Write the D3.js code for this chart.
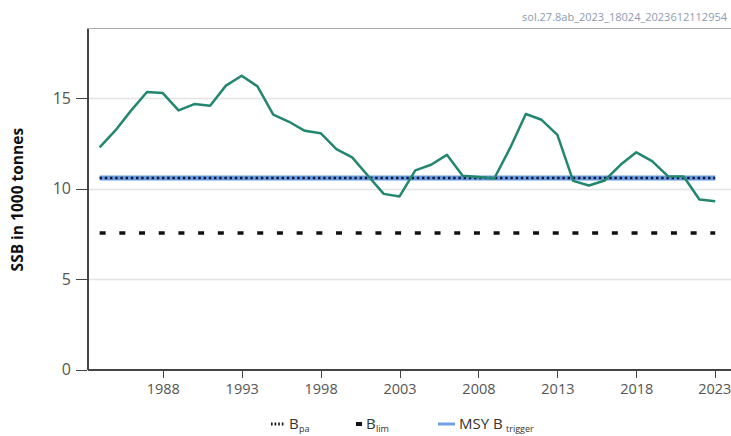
<!DOCTYPE html>
<html lang="en">
<head>
    <meta charset="UTF-8">
    <title>SSB</title>
    <style>
        body{ margin:0; background:#fff; }
        .axis path,.axis line{ fill:none; stroke:#444; shape-rendering:crispEdges; }
        .axis text{ fill:#555; font-family:"Open Sans",sans-serif; font-size:15px; }
    </style>
    <script src="https://cdn.jsdelivr.net/npm/d3@7"></script>
</head>
<body>
<script>
    // data
    var years = d3.range(1984, 2024);
    var ssb = [12.29, 13.23, 14.34, 15.36, 15.30, 14.34, 14.69, 14.60, 15.71, 16.26,
               15.67, 14.10, 13.71, 13.21, 13.08, 12.20, 11.74, 10.72, 9.72, 9.58,
               11.02, 11.33, 11.88, 10.72, 10.65, 10.57, 12.25, 14.14, 13.82, 12.99,
               10.44, 10.18, 10.46, 11.33, 12.02, 11.53, 10.70, 10.68, 9.41, 9.31];
    var xTicks = [1988, 1993, 1998, 2003, 2008, 2013, 2018, 2023];
    var yTicks = [0, 5, 10, 15];
    var Bpa = 10.6;
    var Blim = 7.55;
    var MSYBtrigger = 10.6;

    var width = 731, height = 436;
    var svg = d3.select("body").append("svg")
        .attr("width", width).attr("height", height);

    var x = d3.scaleLinear().domain([1983.2, 2024.0]).range([87, 731]);
    var y = d3.scaleLinear().domain([0, 18.9]).range([369.5, 28]);

    // watermark
    svg.append("text")
        .attr("x", 727).attr("y", 21)
        .attr("text-anchor", "end")
        .attr("fill", "#8d9bb0")
        .style("font-family", "'Open Sans',sans-serif")
        .style("font-size", "11px")
        .text("sol.27.8ab_2023_18024_2023612112954");

    // grid
    svg.selectAll(".grid").data(yTicks.filter(function(d){ return d > 0; }))
        .enter().append("line")
        .attr("x1", 87).attr("x2", 731)
        .attr("y1", function(d){ return Math.round(y(d)) + 0.5; })
        .attr("y2", function(d){ return Math.round(y(d)) + 0.5; })
        .attr("stroke", "#e4e4e4").attr("stroke-width", 1.5);

    // top frame
    svg.append("line")
        .attr("x1", 87).attr("x2", 731).attr("y1", 28.5).attr("y2", 28.5)
        .attr("stroke", "#aaa").attr("stroke-width", 1);

    // axes
    svg.append("g").attr("class", "axis")
        .attr("transform", "translate(0," + 369.5 + ")")
        .call(d3.axisBottom(x).tickValues(xTicks).tickFormat(d3.format("d"))
            .tickSize(8).tickSizeOuter(0).tickPadding(6))
        .selectAll(".tick text")
        .attr("dx", function(d){ return d === 2023 ? -1 : 0; })
        .style("font-size", "14.5px");

    svg.append("g").attr("class", "axis")
        .attr("transform", "translate(" + 87 + ",0)")
        .call(d3.axisLeft(y).tickValues(yTicks).tickSize(11).tickSizeOuter(0).tickPadding(5))
        .selectAll(".tick text").style("font-size", "16px");

    svg.selectAll(".axis .domain").attr("stroke-width", 2);

    svg.append("text")
        .attr("transform", "translate(23," + y(9.4) + ") rotate(-90)")
        .attr("text-anchor", "middle")
        .style("font-family", "'Open Sans',sans-serif")
        .style("font-size", "15.5px").style("font-weight", "bold")
        .attr("fill", "#111")
        .text("SSB in 1000 tonnes");

    // reference points
    var x0 = years[0], x1 = years[years.length - 1];
    svg.append("line")
        .attr("x1", x(x0)).attr("x2", x(x1)).attr("y1", y(MSYBtrigger)).attr("y2", y(MSYBtrigger))
        .attr("stroke", "#6b9be0").attr("stroke-width", 5);
    svg.append("line")
        .attr("x1", x(x0)).attr("x2", x(x1)).attr("y1", y(Bpa)).attr("y2", y(Bpa))
        .attr("stroke", "#13183a").attr("stroke-width", 2.6)
        .attr("stroke-dasharray", "2.4,2.8");
    svg.append("line")
        .attr("x1", x(x0)).attr("x2", x(x1)).attr("y1", y(Blim)).attr("y2", y(Blim))
        .attr("stroke", "#111").attr("stroke-width", 3.5)
        .attr("stroke-dasharray", "6,13.7");

    // SSB line
    var line = d3.line()
        .x(function(d, i){ return x(years[i]); })
        .y(function(d){ return y(d); });
    svg.append("path")
        .attr("d", line(ssb))
        .attr("fill", "none")
        .attr("stroke", "#23876f")
        .attr("stroke-width", 2.5)
        .attr("stroke-linejoin", "round");

    // legend
    var lg = svg.append("g").style("font-family", "'Open Sans',sans-serif").attr("fill", "#333");
    lg.append("line").attr("x1", 271).attr("x2", 284).attr("y1", 424).attr("y2", 424)
        .attr("stroke", "#111").attr("stroke-width", 3).attr("stroke-dasharray", "1.6,2");
    lg.append("text").attr("x", 289).attr("y", 429).style("font-size", "15px").text("B");
    lg.append("text").attr("x", 299).attr("y", 432).style("font-size", "9px").text("pa");

    lg.append("line").attr("x1", 356).attr("x2", 362).attr("y1", 424).attr("y2", 424)
        .attr("stroke", "#111").attr("stroke-width", 4);
    lg.append("text").attr("x", 366).attr("y", 429).style("font-size", "15px").text("B");
    lg.append("text").attr("x", 376).attr("y", 432).style("font-size", "9px").text("lim");

    lg.append("line").attr("x1", 438).attr("x2", 455).attr("y1", 424).attr("y2", 424)
        .attr("stroke", "#6fa0e3").attr("stroke-width", 3);
    lg.append("text").attr("x", 459).attr("y", 429).style("font-size", "15px").text("MSY B");
    lg.append("text").attr("x", 506).attr("y", 432).style("font-size", "9px").text("trigger");
</script>
</body>
</html>
